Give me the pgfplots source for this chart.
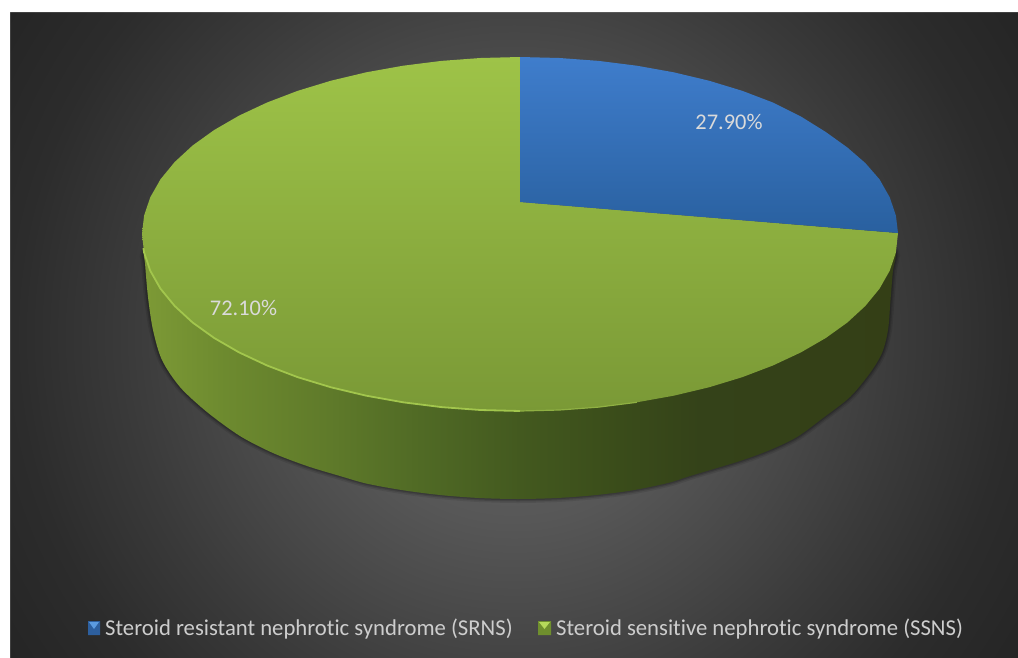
\documentclass[border=0pt]{standalone}
\usepackage{fontspec}
\setmainfont[Ligatures=NoCommon]{Carlito}
\usepackage{pgfplots}
\usepackage{pgfplotstable}
\pgfplotsset{compat=1.18}

% Colours of the faces and of the backdrop
\definecolor{sideA}{HTML}{7D9A36}
\definecolor{sideB}{HTML}{6D8A2F}
\definecolor{sideC}{HTML}{5F7A2A}
\definecolor{sideD}{HTML}{506A25}
\definecolor{sideE}{HTML}{43591F}
\definecolor{sideF}{HTML}{3A4C1A}
\definecolor{sideG}{HTML}{344219}
\definecolor{sideH}{HTML}{343F16}
\definecolor{labelgrey}{HTML}{DADADA}
\definecolor{legendgrey}{HTML}{CDCDCD}
\definecolor{bgA}{HTML}{6A6A6A}
\definecolor{bgB}{HTML}{575757}
\definecolor{bgC}{HTML}{474747}
\definecolor{bgD}{HTML}{3A3A3A}
\definecolor{bgE}{HTML}{2C2C2C}
\definecolor{bgF}{HTML}{252525}
\definecolor{ssnsTop}{HTML}{9EC348}
\definecolor{ssnsBottom}{HTML}{7A9936}
\definecolor{srnsTop}{HTML}{3F7DCC}
\definecolor{srnsBottom}{HTML}{29609F}
\definecolor{litA}{HTML}{A2C64D}
\definecolor{litB}{HTML}{8FB043}
\definecolor{srnsKeyDark}{HTML}{2D5F9E}
\definecolor{srnsKeyLight}{HTML}{5B9BE0}
\definecolor{ssnsKeyDark}{HTML}{6F8F2E}
\definecolor{ssnsKeyLight}{HTML}{B5D95A}

\pgfdeclarehorizontalshading{sideface}{100bp}{
  color(0bp)=(sideA); color(25bp)=(sideA); color(30.5bp)=(sideB);
  color(37.4bp)=(sideC); color(43.4bp)=(sideD); color(50bp)=(sideE);
  color(56.6bp)=(sideF); color(62bp)=(sideG); color(75bp)=(sideH);
  color(100bp)=(sideH)}
\pgfdeclareradialshading{backdrop}{\pgfpoint{0bp}{0bp}}{
  color(0bp)=(bgA); color(8.9bp)=(bgB); color(14.4bp)=(bgC);
  color(18.75bp)=(bgD); color(24bp)=(bgE); color(28.8bp)=(bgF);
  color(50bp)=(bgF)}

% Blue slice: apex, then the rim clockwise from twelve o'clock
\pgfplotstableread{
x y
520 202
520 57
559.5 58
598.6 60.9
636.8 65.7
673.7 72.3
709 80.7
742.2 90.8
772.9 102.5
800.9 116.5
825.8 132
847.4 147.5
865.3 163
879.5 179.3
889.7 197.2
895.9 215.5
898 233
}\srnsslice

% Green slice: apex, then the rim clockwise round to twelve o'clock
\pgfplotstableread{
x y
520 202
898 233
895.9 252.5
889.7 270.8
879.5 288.7
865.3 306
847.4 322.5
825.8 338
800.9 352.4
772.9 365.5
742.2 377.2
709 387.3
673.7 395.7
636.8 402.3
598.6 407.1
559.5 410
520 411
480.5 410
441.4 407.1
403.2 402.3
366.3 395.7
331 387.3
297.8 377.2
267.1 365.5
239.1 352.4
214.2 338
192.6 322.5
174.7 306
160.5 288.7
150.3 270.8
144.1 252.5
142 234
144.1 215.5
150.3 197.2
160.5 179.3
174.7 162
192.6 145.5
214.2 130
239.1 115.6
267.1 102.5
297.8 90.8
331 80.7
366.3 72.3
403.2 65.7
441.4 60.9
480.5 58
520 57
}\ssnsslice

% Lower outline of the wall, right to left; both ends lie under the top face
\pgfplotstableread{
x y
880 240
895.5 252
893 270
890.5 300
888 330
882 353
870 373
850 397
823 418
797 437
770 450
743 460
717 468
690 476
668.9 482.7
632.6 490.3
595.1 495.1
556.8 498
518 499
479.2 498
440.9 495.1
403.4 490.3
367.1 483.7
340 476
307 466
273 453
240 436
207 412
180 387
162 360
153 330
148 297
145 263
144.5 252
160 240
}\walloutline

% Lit rim along the front of the green slice
\pgfplotstableread{
x y
143.4 248
144.1 252.5
150.3 270.8
160.5 288.7
174.7 306
192.6 322.5
214.2 338
239.1 352.4
267.1 365.5
297.8 377.2
331 387.3
366.3 395.7
403.2 402.3
441.4 407.1
480.5 410
520 411
}\litrim

\pgfplotstableread{
x y
520 411
559.5 410
598.6 407.1
636.8 402.3
}\fadedrim

\begin{document}
\begin{tikzpicture}
\path[use as bounding box] (0,0) rectangle (1018bp,658bp);
\begin{axis}[
  at={(0,0)}, anchor=south west,
  scale only axis, width=1018bp, height=658bp,
  xmin=0, xmax=1018, ymin=0, ymax=658, y dir=reverse,
  hide axis, clip=true, no markers,
]
% Backdrop: a square round the glow's centre, so that the glow stays circular
\addplot[draw=none, shade, shading=backdrop]
  coordinates {(-6,-185) (1034,-185) (1034,855) (-6,855) (-6,-185)};
\addplot[draw=none, fill=white]
  coordinates {(0,0) (1018,0) (1018,12) (0,12) (0,0)};
\addplot[draw=none, fill=white]
  coordinates {(0,0) (10,0) (10,658) (0,658) (0,0)};

% Soft shadow under the wall
\addplot[smooth, draw=black, opacity=0.09, line width=8bp] table {\walloutline};
\addplot[smooth, draw=black, opacity=0.13, line width=5bp] table {\walloutline};
\addplot[smooth, draw=black, opacity=0.16, line width=2.5bp] table {\walloutline};

% Wall and top faces
\addplot[smooth, draw=none, shade, shading=sideface] table {\walloutline};
\addplot[draw=none, top color=ssnsTop, bottom color=ssnsBottom] table {\ssnsslice};
\addplot[draw=none, top color=srnsTop, bottom color=srnsBottom] table {\srnsslice};
\addplot[draw=litA, line width=1.8bp] table {\litrim};
\addplot[draw=litB, line width=1.2bp] table {\fadedrim};

% Legend keys
\addplot[draw=none, fill=srnsKeyDark]
  coordinates {(88,621) (100,621) (100,635) (88,635) (88,621)};
\addplot[draw=none, fill=srnsKeyLight]
  coordinates {(89,622) (99,622) (94,629) (89,622)};
\addplot[draw=none, fill=ssnsKeyDark]
  coordinates {(538,621) (551,621) (551,635) (538,635) (538,621)};
\addplot[draw=none, fill=ssnsKeyLight]
  coordinates {(539,622) (550,622) (544.5,629) (539,622)};

% Data labels and legend text
\node[text=labelgrey, font=\fontsize{22.4bp}{26bp}\selectfont] at (axis cs:729,122) {27.90\%};
\node[text=labelgrey, font=\fontsize{22.4bp}{26bp}\selectfont] at (axis cs:243.5,308) {72.10\%};
\node[text=legendgrey, anchor=base west, inner sep=0pt, font=\fontsize{22.7bp}{26bp}\selectfont]
  at (axis cs:105,635) {Steroid resistant nephrotic syndrome (SRNS)};
\node[text=legendgrey, anchor=base west, inner sep=0pt, font=\fontsize{22.7bp}{26bp}\selectfont]
  at (axis cs:556,635) {Steroid sensitive nephrotic syndrome (SSNS)};
\end{axis}
\end{tikzpicture}
\end{document}
